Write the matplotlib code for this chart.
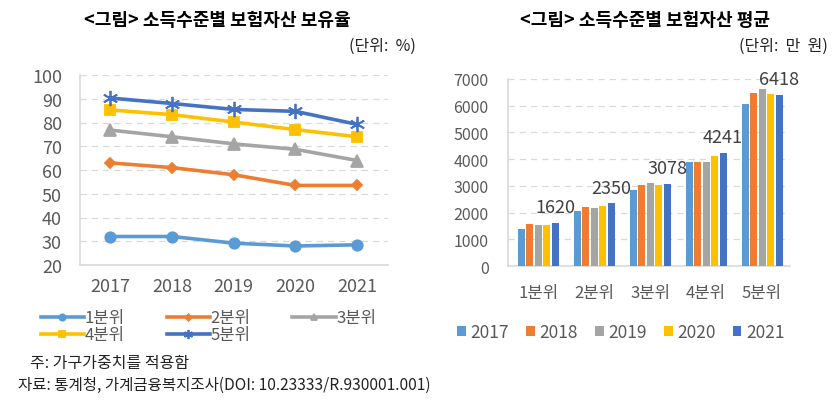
import matplotlib
matplotlib.use("Agg")
import matplotlib.pyplot as plt
import numpy as np

plt.rcParams['font.family'] = ['Noto Sans CJK KR', 'DejaVu Sans']

years = ['2017', '2018', '2019', '2020', '2021']
quintiles = ['1분위', '2분위', '3분위', '4분위', '5분위']

# Left: ownership rate (%) by quintile over years
own_q1 = [32, 32, 29.2, 28, 28.5]
own_q2 = [63, 61, 58, 53.5, 53.5]
own_q3 = [76.8, 74, 71, 68.7, 64]
own_q4 = [85.3, 83.3, 80.2, 77, 74]
own_q5 = [90.3, 88, 85.5, 84.7, 79.2]

# Right: mean insurance assets (10k won) by quintile, per year
avg_2017 = [1375, 2075, 2840, 3910, 6050]
avg_2018 = [1590, 2190, 3050, 3910, 6475]
avg_2019 = [1550, 2180, 3090, 3910, 6610]
avg_2020 = [1550, 2240, 3050, 4125, 6425]
avg_2021 = [1620, 2350, 3078, 4241, 6418]

c_blue = '#5B9BD5'
c_orange = '#ED7D31'
c_gray = '#A5A5A5'
c_yellow = '#FFC000'
c_dblue = '#4472C4'
tick_col = '#595959'

fig = plt.figure(figsize=(8.39, 4.02), dpi=100)

# ---------- Left chart ----------
ax1 = fig.add_axes([80/839, 1-266/402, 308/839, 190/402])
x = np.arange(len(years))
series = [
    (own_q1, c_blue, 'o', 7.5, quintiles[0]),
    (own_q2, c_orange, 'D', 5.5, quintiles[1]),
    (own_q3, c_gray, '^', 8, quintiles[2]),
    (own_q4, c_yellow, 's', 7.5, quintiles[3]),
    (own_q5, c_dblue, (6, 2, 0), 11, quintiles[4]),
]
handles = []
for vals, col, mk, ms, lab in series:
    h, = ax1.plot(x, vals, color=col, lw=2.6, marker=mk, ms=ms, mec=col,
                  mfc=col, mew=1.3, label=lab)
    handles.append(h)
ax1.set_ylim(20, 100)
ax1.set_xlim(-0.49, 4.5)
ax1.set_yticks(range(20, 101, 10))
ax1.set_xticks(x)
ax1.set_xticklabels(years, fontsize=13, color=tick_col)
ax1.tick_params(axis='y', labelsize=13, colors=tick_col, length=0, pad=13)
ax1.tick_params(axis='x', length=0, pad=9)
ax1.grid(axis='y', color='#D9D9D9', ls=(0, (5, 4)), lw=0.9)
ax1.set_axisbelow(True)
for s in ['top', 'right']:
    ax1.spines[s].set_visible(False)
for s in ['left', 'bottom']:
    ax1.spines[s].set_color('#D9D9D9')
    ax1.spines[s].set_linewidth(1.2)
order = [0, 3, 1, 4, 2]
leg1 = ax1.legend([handles[i] for i in order],
                  [quintiles[i] for i in order],
                  loc='upper left', bbox_to_anchor=(-0.155, -0.19), ncol=3,
                  frameon=False, fontsize=12, handlelength=2.6,
                  handletextpad=0.05, columnspacing=2.5, labelspacing=0.0,
                  markerscale=0.6, borderpad=0.0)
for t in leg1.get_texts():
    t.set_color(tick_col)

fig.text(217/839, 1-20/402, '<그림> 소득수준별 보험자산 보유율', ha='center',
         va='center', fontsize=13, fontweight='bold', color='#000000')
fig.text(416/839, 1-46/402, '(단위:  %)', ha='right', va='center',
         fontsize=11.5, color='#222222')

# ---------- Right chart ----------
ax2 = fig.add_axes([508/839, 1-267/402, 282/839, 187/402])
bars = [(avg_2017, c_blue), (avg_2018, c_orange), (avg_2019, c_gray),
        (avg_2020, c_yellow), (avg_2021, c_dblue)]
gx = np.arange(len(quintiles))
step = 0.152
w = 0.125
for i, (vals, col) in enumerate(bars):
    rects = ax2.bar(gx + (i - 2) * step, vals, width=w, color=col,
                    label=years[i], zorder=3)
    if i == 4:
        for r, v in zip(rects, vals):
            ax2.text(r.get_x() + r.get_width()/2, v + 250, f'{v}',
                     ha='center', va='bottom', fontsize=13, color='#404040')
ax2.set_ylim(0, 7000)
ax2.set_xlim(-0.54, 4.5)
ax2.set_yticks(range(0, 7001, 1000))
ax2.set_xticks(gx)
ax2.set_xticklabels(quintiles, fontsize=12, color=tick_col)
ax2.tick_params(axis='y', labelsize=11.5, colors=tick_col, length=0, pad=14)
ax2.tick_params(axis='x', length=0, pad=13)
ax2.grid(axis='y', color='#D9D9D9', ls=(0, (5, 4)), lw=0.9)
ax2.set_axisbelow(True)
for s in ['top', 'right']:
    ax2.spines[s].set_visible(False)
for s in ['left', 'bottom']:
    ax2.spines[s].set_color('#D9D9D9')
    ax2.spines[s].set_linewidth(1.2)
leg2 = ax2.legend(loc='upper center', bbox_to_anchor=(0.4, -0.22), ncol=5,
                  frameon=False, fontsize=12.5, handlelength=0.5,
                  handleheight=0.5, handletextpad=0.25, columnspacing=1.0)
for t in leg2.get_texts():
    t.set_color(tick_col)

fig.text(645/839, 1-20/402, '<그림> 소득수준별 보험자산 평균', ha='center',
         va='center', fontsize=13, fontweight='bold', color='#000000')
fig.text(828/839, 1-46/402, '(단위:  만  원)', ha='right', va='center',
         fontsize=11.5, color='#222222')

# ---------- Footnotes ----------
fig.text(30/839, 1-364/402, '주: 가구가중치를 적용함', ha='left', va='center',
         fontsize=11.5, color='#222222')
fig.text(18/839, 1-385/402, '자료: 통계청, 가계금융복지조사(DOI: 10.23333/R.930001.001)',
         ha='left', va='center', fontsize=11.2, color='#222222')

fig.savefig('out.png', dpi=100, facecolor='white')
